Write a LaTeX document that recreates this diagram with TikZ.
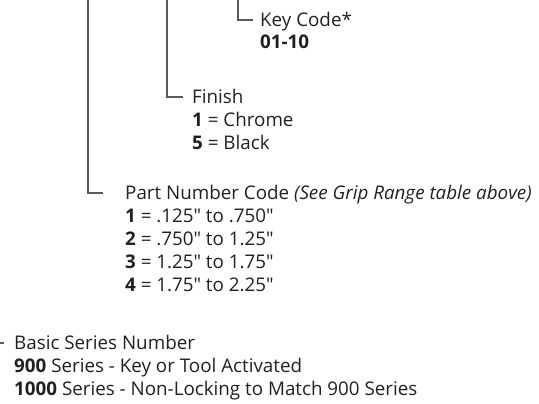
\documentclass[tikz,border=0pt]{standalone}
\usepackage{fontspec}
\setmainfont{Open Sans}
\usepackage{tikz}
\usetikzlibrary{positioning}
\definecolor{inkgray}{HTML}{231F20}
\definecolor{leadgray}{HTML}{58595B}
\tikzset{
entry/.style={inner sep=0, anchor=west, text height=13pt, text depth=0pt, text=inkgray, font=\fontsize{18.8}{22}\selectfont},
lead/.style={draw=leadgray, line width=1.2pt}}

\begin{document}
\begin{tikzpicture}[x=1pt, y=-1pt]
\useasboundingbox (0,0) rectangle (539,404);
% key code
\node [entry] (key) at (260,20) {Key Code*};
\node [entry] (keyval) at (260,42) {\textbf{01-10}};
% finish
\node [entry] (fin) at (192,97) {Finish};
\node [entry] (fin1) at (192,120) {\textbf{1} = Chrome};
\node [entry] (fin5) at (192,143) {\textbf{5} = Black};
% part number
\node [entry] (part) at (125,193) {Part Number Code \textit{(See Grip Range table above)}};
\node [entry] (part1) at (125,216) {\textbf{1} = .125″ to .750″};
\node [entry] (part2) at (125,239) {\textbf{2} = .750″ to 1.25″};
\node [entry] (part3) at (125,262) {\textbf{3} = 1.25″ to 1.75″};
\node [entry] (part4) at (125,285) {\textbf{4} = 1.75″ to 2.25″};
% series
\node [entry] (basic) at (14,343) {Basic Series Number};
\node [entry] (basic900) at (14,366) {\textbf{900} Series - Key or Tool Activated};
\node [entry] (basic1000) at (14,389) {\textbf{1000} Series - Non-Locking to Match 900 Series};
\coordinate (keytop) at (238,-2);
\coordinate (fintop) at (167,-2);
\coordinate (parttop) at (88,-2);
\coordinate (basictop) at (-6,-2);
\draw [lead, shorten >=7pt] (keytop) |- (key.west);
\draw [lead, shorten >=9pt] (fintop) |- (fin.west);
\draw [lead, shorten >=22pt] (parttop) |- (part.west);
\draw [lead, shorten >=10pt] (basictop) |- (basic.west);
\end{tikzpicture}
\end{document}
